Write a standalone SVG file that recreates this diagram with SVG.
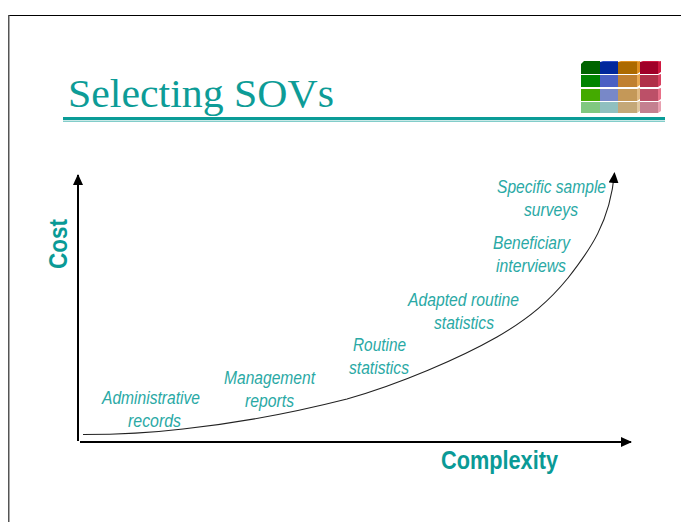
<svg xmlns="http://www.w3.org/2000/svg" width="681" height="522" viewBox="0 0 681 522">
<style>
text{font-family:"Liberation Sans",Arial,sans-serif;fill:#1aa5a0}
.t{font-style:italic;font-size:17.5px;fill:#2aa9a5}
.a{font-weight:bold;font-size:25px;fill:#0a9a96}
.ax{fill:none;stroke:#000;stroke-width:2}
</style>
<defs><marker id="h" markerWidth="12" markerHeight="12" refX="10" refY="5" orient="auto" markerUnits="userSpaceOnUse"><path d="M0 0L11 5L0 10Z" fill="#000"/></marker></defs>
<rect width="681" height="522" fill="#fff"/>
<rect x="8" y="15" width="673" height="1" fill="#000"/>
<rect x="8" y="15" width="1.500" height="507" fill="#555"/>
<text x="68" y="107" textLength="266" lengthAdjust="spacingAndGlyphs" style="font-family:'Liberation Serif',serif;font-size:41px;fill:#0d9c97">Selecting SOVs</text>
<rect x="63" y="117" width="602" height="3" fill="#0a9c97"/>
<rect x="63" y="120.700" width="602" height="1" fill="#4fb8b4"/>
<g id="logo">
<path d="M581 74V64L584 61H600V74Z" fill="#006400"/><rect x="600" y="62" width="18" height="12" fill="#00279c"/><path d="M600 62L603 61H618V62Z" fill="#3050c8"/><rect x="618" y="62" width="19" height="12" fill="#ac6a00"/><path d="M637 62L640 61V72L637 74Z" fill="#e09020"/><path d="M618 62L621 61H640L637 62Z" fill="#e09020"/><rect x="640" y="62" width="18" height="12" fill="#a00028"/><path d="M658 62L661 61V72L658 74Z" fill="#d01840"/><path d="M640 62L643 61H661L658 62Z" fill="#d01840"/>
<rect x="581" y="75" width="19" height="12" fill="#008400"/><rect x="600" y="75" width="18" height="12" fill="#4a60c4"/><rect x="618" y="75" width="19" height="12" fill="#c08030"/><path d="M637 75L640 74V85L637 87Z" fill="#e8a850"/><rect x="640" y="75" width="18" height="12" fill="#b03048"/><path d="M658 75L661 74V85L658 87Z" fill="#d84060"/>
<rect x="581" y="89" width="19" height="12" fill="#44aa00"/><rect x="600" y="89" width="18" height="12" fill="#7888c8"/><rect x="618" y="89" width="19" height="12" fill="#c49858"/><path d="M637 89L640 88V99L637 101Z" fill="#e0b880"/><rect x="640" y="89" width="18" height="12" fill="#bc5068"/><path d="M658 89L661 88V99L658 101Z" fill="#e87088"/>
<rect x="581" y="102" width="19" height="11" fill="#80c880"/><rect x="600" y="102" width="18" height="11" fill="#90c0c0"/><rect x="618" y="102" width="19" height="11" fill="#c4a878"/><path d="M637 102L640 101V111L637 113Z" fill="#e0c8a0"/><rect x="640" y="102" width="18" height="11" fill="#c48090"/><path d="M658 102L661 101V111L658 113Z" fill="#e8a0b0"/>
</g>
<g id="connectors">
<path class="ax" d="M78 441V175" marker-end="url(#h)"/>
<path class="ax" d="M80 442H631" marker-end="url(#h)"/>
<path d="M83 434.500C110 434.500 150 433 183 429C230 424 280 416 347 399C400 384 460 358 497 337C530 318 550 300 568 278C590 250 610 222 614.500 173" fill="none" stroke="#222" stroke-width="1.100" marker-end="url(#h)"/>
</g>
<text class="a" transform="translate(67 269) rotate(-90)" textLength="50" lengthAdjust="spacingAndGlyphs">Cost</text>
<text class="a" x="441" y="469" textLength="117" lengthAdjust="spacingAndGlyphs">Complexity</text>
<g id="n1"><text class="t" x="102" y="404" textLength="98" lengthAdjust="spacingAndGlyphs">Administrative</text><text class="t" x="128" y="427" textLength="53" lengthAdjust="spacingAndGlyphs">records</text></g>
<g id="n2"><text class="t" x="224" y="384" textLength="91" lengthAdjust="spacingAndGlyphs">Management</text><text class="t" x="245" y="407" textLength="49" lengthAdjust="spacingAndGlyphs">reports</text></g>
<g id="n3"><text class="t" x="353" y="351" textLength="53" lengthAdjust="spacingAndGlyphs">Routine</text><text class="t" x="349" y="374" textLength="60" lengthAdjust="spacingAndGlyphs">statistics</text></g>
<g id="n4"><text class="t" x="408" y="306" textLength="111" lengthAdjust="spacingAndGlyphs">Adapted routine</text><text class="t" x="434" y="329" textLength="60" lengthAdjust="spacingAndGlyphs">statistics</text></g>
<g id="n5"><text class="t" x="493" y="249" textLength="77" lengthAdjust="spacingAndGlyphs">Beneficiary</text><text class="t" x="496" y="272" textLength="70" lengthAdjust="spacingAndGlyphs">interviews</text></g>
<g id="n6"><text class="t" x="497" y="193" textLength="109" lengthAdjust="spacingAndGlyphs">Specific sample</text><text class="t" x="524" y="216" textLength="54" lengthAdjust="spacingAndGlyphs">surveys</text></g>
</svg>
